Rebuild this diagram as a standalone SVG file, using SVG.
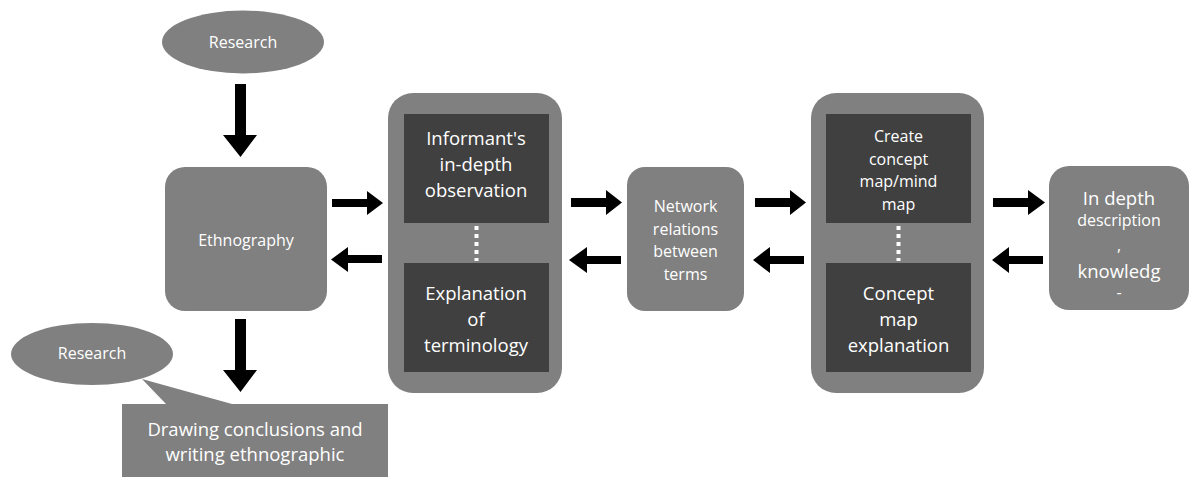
<svg xmlns="http://www.w3.org/2000/svg" width="1194" height="477" viewBox="0 0 1194 477">
<style>
.n{fill:#808080}
.d{fill:#404040}
.t{fill:#ffffff;font-family:"Open Sans","Noto Sans",sans-serif;text-anchor:middle;dominant-baseline:central}
.s{font-size:16px}
.l{font-size:18.5px}
.a{fill:#000000}
.dot{stroke:#ffffff;stroke-width:4;stroke-dasharray:4 4;fill:none}
</style>
<rect width="1194" height="477" fill="#ffffff"/>
<g id="research-top">
<ellipse class="n" cx="243" cy="42" rx="81" ry="31.5"/>
<text class="t s" x="243" y="42">Research</text>
</g>
<g id="ethnography">
<rect class="n" x="165" y="167" width="162" height="144" rx="20"/>
<text class="t s" x="246" y="240">Ethnography</text>
</g>
<g id="research-callout">
<ellipse class="n" cx="92" cy="354" rx="81" ry="31"/>
<text class="t s" x="92" y="353">Research</text>
</g>
<g id="conclusions">
<path class="n" d="M122 404 H166 L142 379 L232 404 H388 V477 H122 Z"/>
<text class="t l" x="255" y="428">Drawing conclusions and</text>
<text class="t l" x="255" y="453">writing ethnographic</text>
</g>
<g id="group1">
<rect class="n" x="388" y="93" width="174" height="300" rx="25"/>
<g id="informant">
<rect class="d" x="404" y="114" width="145" height="109"/>
<text class="t l" x="476" y="137">Informant's</text>
<text class="t l" x="476" y="163">in-depth</text>
<text class="t l" x="476" y="189">observation</text>
</g>
<g id="terminology">
<rect class="d" x="404" y="263" width="145" height="109"/>
<text class="t l" x="476" y="292">Explanation</text>
<text class="t l" x="476" y="318">of</text>
<text class="t l" x="476" y="344">terminology</text>
</g>
<line class="dot" x1="476.5" y1="226" x2="476.5" y2="261"/>
</g>
<g id="network">
<rect class="n" x="627" y="167" width="117" height="144" rx="18"/>
<text class="t s" x="685.5" y="206">Network</text>
<text class="t s" x="685.5" y="229">relations</text>
<text class="t s" x="685.5" y="251">between</text>
<text class="t s" x="685.5" y="274">terms</text>
</g>
<g id="group2">
<rect class="n" x="811" y="93" width="173" height="300" rx="25"/>
<g id="create-map">
<rect class="d" x="826" y="114" width="145" height="109"/>
<text class="t s" x="898.5" y="136">Create</text>
<text class="t s" x="898.5" y="159">concept</text>
<text class="t s" x="898.5" y="181">map/mind</text>
<text class="t s" x="898.5" y="204">map</text>
</g>
<g id="map-explanation">
<rect class="d" x="826" y="263" width="145" height="109"/>
<text class="t l" x="898.5" y="292">Concept</text>
<text class="t l" x="898.5" y="318">map</text>
<text class="t l" x="898.5" y="344">explanation</text>
</g>
<line class="dot" x1="898.5" y1="226" x2="898.5" y2="261"/>
</g>
<g id="description">
<rect class="n" x="1049" y="166" width="140" height="144" rx="20"/>
<text class="t l" x="1119" y="197">In depth</text>
<text class="t s" x="1119" y="220">description</text>
<text class="t s" x="1119" y="245">,</text>
<text class="t l" x="1119" y="270">knowledg</text>
<text class="t s" x="1119" y="292">-</text>
</g>
<g id="connectors">
<path class="a" d="M235 84 H246 V135 H257 L240.5 157 L223 135 H235 Z"/>
<path class="a" d="M235 319 H246 V370 H257 L240.5 392 L223 370 H235 Z"/>
<path class="a" d="M332 199 H367 V191 L383 203 L367 215 V207 H332 Z"/>
<path class="a" d="M382 255 H348 V247 L331 259.5 L348 272 V263 H382 Z"/>
<path class="a" d="M571 198 H606 V190 L622 202.5 L606 215 V207 H571 Z"/>
<path class="a" d="M621 256 H587 V247 L569 260 L587 273 V264 H621 Z"/>
<path class="a" d="M755 198 H790 V190 L806 202.5 L790 215 V207 H755 Z"/>
<path class="a" d="M804 256 H770 V247 L753 260 L770 273 V264 H804 Z"/>
<path class="a" d="M993 198 H1028 V190 L1045 202.5 L1028 215 V207 H993 Z"/>
<path class="a" d="M1043 256 H1009 V247 L992 260 L1009 273 V264 H1043 Z"/>
</g>
</svg>
